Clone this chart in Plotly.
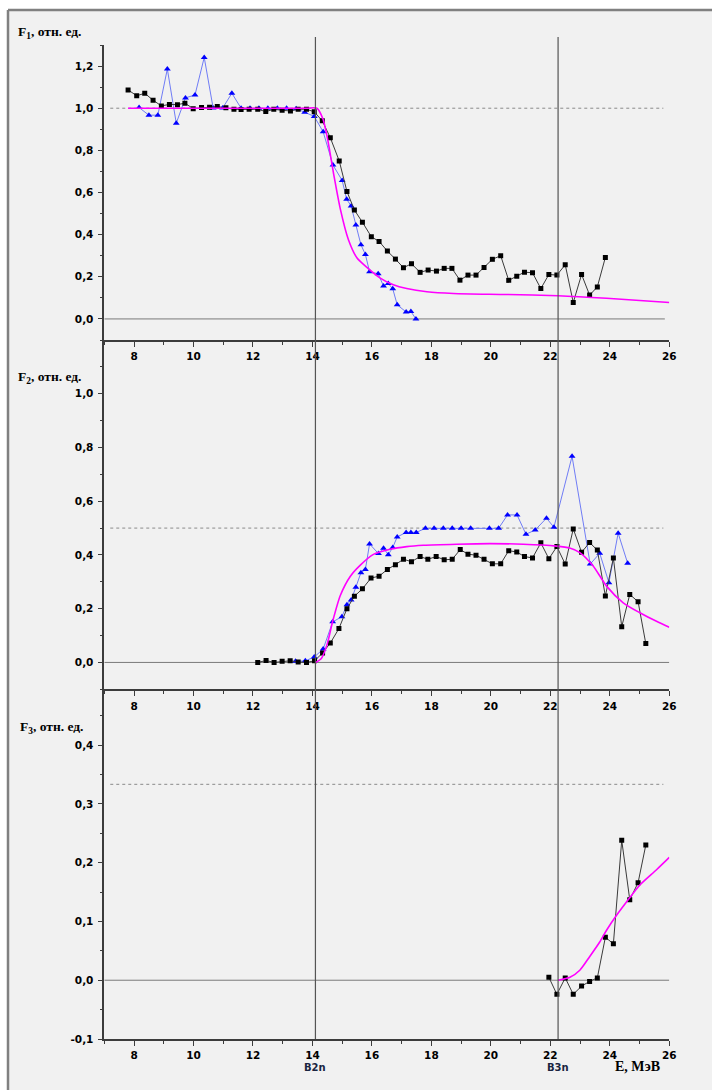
import plotly.graph_objects as go

# ---------------- data ----------------
# Panel F1
f1_sq_E = [7.8, 8.09, 8.36, 8.64, 8.92, 9.19, 9.46, 9.71, 9.99, 10.27, 10.54, 10.8, 11.09, 11.36, 11.6, 11.87,
           12.16, 12.43, 12.7, 12.98, 13.26, 13.52, 13.8, 14.06, 14.33, 14.6, 14.9, 15.16, 15.41, 15.68, 15.98,
           16.24, 16.52, 16.79, 17.06, 17.33, 17.62, 17.89, 18.17, 18.43, 18.69, 18.96, 19.23, 19.5, 19.77,
           20.05, 20.33, 20.6, 20.87, 21.13, 21.4, 21.68, 21.95, 22.22, 22.5, 22.77, 23.05, 23.32, 23.58, 23.85]
f1_sq_v = [1.087, 1.059, 1.071, 1.038, 1.011, 1.018, 1.017, 1.024, 0.998, 1.003, 1.005, 1.008, 1.002, 0.995,
           0.994, 0.995, 0.995, 0.984, 0.995, 0.99, 0.987, 0.995, 0.995, 0.983, 0.94, 0.86, 0.75, 0.605, 0.517,
           0.459, 0.39, 0.368, 0.322, 0.284, 0.243, 0.262, 0.221, 0.232, 0.227, 0.24, 0.24, 0.184, 0.208, 0.208,
           0.244, 0.283, 0.3, 0.183, 0.203, 0.222, 0.219, 0.144, 0.211, 0.208, 0.257, 0.078, 0.211, 0.113,
           0.152, 0.292]
f1_tr_E = [8.17, 8.5, 8.8, 9.12, 9.42, 9.73, 10.05, 10.36, 10.66, 10.98, 11.29, 11.6, 11.9, 12.2, 12.5, 12.82,
           13.13, 13.45, 13.74, 14.06, 14.36, 14.69, 15.0, 15.15, 15.3, 15.46, 15.63, 15.78, 15.92, 16.21,
           16.39, 16.55, 16.7, 16.85, 17.15, 17.31, 17.48]
f1_tr_v = [1.003, 0.967, 0.967, 1.186, 0.929, 1.049, 1.063, 1.241, 1.001, 1.001, 1.071, 1.0, 1.0, 1.0, 1.0,
           1.0, 1.0, 0.998, 0.981, 0.961, 0.888, 0.73, 0.657, 0.568, 0.536, 0.446, 0.352, 0.306, 0.224, 0.214,
           0.156, 0.168, 0.143, 0.067, 0.033, 0.035, 0.0]
f1_fit_E = [7.8, 9, 10, 11, 12, 13, 13.8, 14.15, 14.35, 14.5, 14.71, 14.94, 15.21, 15.5, 15.83, 16.28, 16.72,
            17.17, 17.85, 18.74, 20.53, 22.26, 23.89, 26.0]
f1_fit_v = [1.0, 1.0, 1.0, 1.0, 1.0, 1.0, 1.0, 1.0, 0.95, 0.86, 0.69, 0.52, 0.376, 0.289, 0.245, 0.194, 0.162,
            0.144, 0.129, 0.121, 0.116, 0.11, 0.098, 0.078]

# Panel F2
f2_sq_E = [12.16, 12.44, 12.71, 12.98, 13.25, 13.52, 13.8, 14.07, 14.34, 14.6, 14.89, 15.16, 15.41, 15.68,
           15.97, 16.24, 16.52, 16.79, 17.06, 17.33, 17.62, 17.88, 18.16, 18.43, 18.7, 18.97, 19.23, 19.5,
           19.77, 20.05, 20.33, 20.6, 20.87, 21.13, 21.4, 21.68, 21.95, 22.22, 22.5, 22.77, 23.05, 23.32,
           23.58, 23.85, 24.12, 24.4, 24.67, 24.95, 25.21]
f2_sq_v = [0.0, 0.007, 0.0, 0.004, 0.006, 0.002, 0.0, 0.006, 0.035, 0.072, 0.126, 0.2, 0.246, 0.274, 0.314,
           0.321, 0.346, 0.364, 0.384, 0.375, 0.394, 0.384, 0.394, 0.382, 0.384, 0.42, 0.403, 0.399, 0.384,
           0.367, 0.367, 0.416, 0.411, 0.394, 0.389, 0.445, 0.386, 0.431, 0.366, 0.497, 0.41, 0.446, 0.418,
           0.247, 0.389, 0.133, 0.253, 0.226, 0.07]
f2_tr_E = [13.43, 13.76, 14.06, 14.36, 14.68, 14.99, 15.16, 15.3, 15.46, 15.63, 15.78, 15.92, 16.22, 16.39,
           16.55, 16.7, 16.85, 17.15, 17.31, 17.49, 17.8, 18.09, 18.4, 18.7, 19.0, 19.32, 19.95, 20.26, 20.56,
           20.88, 21.18, 21.49, 21.87, 22.12, 22.73, 23.34, 23.66, 23.97, 24.28, 24.6]
f2_tr_v = [0.004, 0.006, 0.02, 0.05, 0.151, 0.17, 0.215, 0.232, 0.28, 0.334, 0.346, 0.441, 0.405, 0.425,
           0.401, 0.428, 0.467, 0.484, 0.484, 0.484, 0.499, 0.499, 0.499, 0.499, 0.499, 0.499, 0.499, 0.499,
           0.549, 0.549, 0.477, 0.493, 0.537, 0.503, 0.767, 0.366, 0.406, 0.297, 0.481, 0.369]
f2_fit_E = [14.1, 14.3, 14.5, 14.68, 14.94, 15.27, 15.61, 16.05, 16.61, 17.17, 17.73, 18.85, 19.97, 21.09,
            22.2, 22.65, 22.99, 23.44, 23.89, 24.45, 25.01, 25.57, 26.0]
f2_fit_v = [0.0, 0.015, 0.07, 0.153, 0.25, 0.32, 0.362, 0.402, 0.421, 0.431, 0.436, 0.44, 0.442, 0.44,
            0.433, 0.426, 0.409, 0.359, 0.284, 0.222, 0.185, 0.153, 0.131]

# Panel F3
f3_sq_E = [21.95, 22.22, 22.5, 22.77, 23.05, 23.32, 23.58, 23.85, 24.12, 24.4, 24.67, 24.95, 25.21]
f3_sq_v = [0.005, -0.024, 0.004, -0.024, -0.01, -0.002, 0.004, 0.073, 0.062, 0.238, 0.137, 0.166, 0.23]
f3_fit_E = [22.26, 22.66, 22.99, 23.32, 23.66, 23.89, 24.22, 24.56, 25.01, 25.57, 26.0]
f3_fit_v = [0.0, 0.005, 0.017, 0.04, 0.065, 0.085, 0.11, 0.133, 0.162, 0.188, 0.209]

# reference levels, thresholds, axis labels
dotted_levels = [1.0, 0.5, 1 / 3]
thresholds_E = [14.1, 22.26]
threshold_labels = ["B2n", "B3n"]
y_titles = ["F<sub>1</sub>, отн. ед.", "F<sub>2</sub>, отн. ед.", "F<sub>3</sub>, отн. ед."]
y_ranges = [[-0.1, 1.3], [-0.1, 1.2], [-0.1, 0.495]]
y_tickvals = [[0.0, 0.2, 0.4, 0.6, 0.8, 1.0, 1.2],
              [0.0, 0.2, 0.4, 0.6, 0.8, 1.0],
              [-0.1, 0.0, 0.1, 0.2, 0.3, 0.4]]
y_minor = [0.1, 0.1, 0.05]
x_tickvals = [8, 10, 12, 14, 16, 18, 20, 22, 24, 26]

# ---------------- figure ----------------
W, H = 712, 1090
def py(px):
    return 1 - px / H

x_dom = [104.3 / W, 669.3 / W]
y_doms = [[py(340), py(45)], [py(689.3), py(340)], [py(1039), py(689.3)]]

fig = go.Figure()

sq_line = dict(color="#3a3a3a", width=1)
sq_mark = dict(symbol="square", size=5, color="black")
tr_line = dict(color="#6f7cf5", width=1)
tr_mark = dict(symbol="triangle-up", size=6, color="#0000ff")
fit_line = dict(color="#ff00ff", width=1.6, shape="spline", smoothing=0.7)

panels = [
    (f1_fit_E, f1_fit_v, f1_tr_E, f1_tr_v, f1_sq_E, f1_sq_v),
    (f2_fit_E, f2_fit_v, f2_tr_E, f2_tr_v, f2_sq_E, f2_sq_v),
    (f3_fit_E, f3_fit_v, None, None, f3_sq_E, f3_sq_v),
]

for i, (fe, fv, te, tv, se, sv) in enumerate(panels):
    xa = "x" if i == 0 else f"x{i+1}"
    ya = "y" if i == 0 else f"y{i+1}"
    fig.add_trace(go.Scatter(x=[7.0, 25.85 if i == 0 else 26.0], y=[0, 0], mode="lines",
                             line=dict(color="#7a7a7a", width=1), xaxis=xa, yaxis=ya, hoverinfo="skip"))
    fig.add_trace(go.Scatter(x=[7.2, 25.8], y=[dotted_levels[i]] * 2, mode="lines",
                             line=dict(color="#8a8a8a", width=1, dash="dot"), xaxis=xa, yaxis=ya, hoverinfo="skip"))
    if te is not None:
        fig.add_trace(go.Scatter(x=te, y=tv, mode="lines+markers", line=tr_line, marker=tr_mark,
                                 xaxis=xa, yaxis=ya))
    fig.add_trace(go.Scatter(x=se, y=sv, mode="lines+markers", line=sq_line, marker=sq_mark,
                             xaxis=xa, yaxis=ya))
    fig.add_trace(go.Scatter(x=fe, y=fv, mode="lines", line=fit_line, xaxis=xa, yaxis=ya))

tick_font = dict(family="DejaVu Sans, Arial", size=10.5, color="black", weight="bold")
axis_col = "#3c3c3c"
layout = dict(width=W, height=H, margin=dict(l=0, r=0, t=0, b=0, autoexpand=False),
              paper_bgcolor="white", plot_bgcolor="rgba(0,0,0,0)", showlegend=False)

for i in range(3):
    xk = "xaxis" if i == 0 else f"xaxis{i+1}"
    yk = "yaxis" if i == 0 else f"yaxis{i+1}"
    ya = "y" if i == 0 else f"y{i+1}"
    xa = "x" if i == 0 else f"x{i+1}"
    layout[xk] = dict(domain=x_dom, anchor=ya, range=[7, 26], tickmode="array", tickvals=x_tickvals,
                      ticktext=[str(v) for v in x_tickvals], showgrid=False, automargin=False,
                      zeroline=False, showline=True, linecolor=axis_col, linewidth=1.5,
                      ticks="outside", ticklen=5, tickwidth=1.3, tickcolor=axis_col,
                      tickfont=tick_font, ticklabelstandoff=1,
                      minor=dict(ticks="outside", ticklen=3, tickwidth=1.2, tickcolor=axis_col,
                                 tick0=7, dtick=1, showgrid=False))
    tv = y_tickvals[i]
    layout[yk] = dict(domain=y_doms[i], anchor=xa, range=y_ranges[i], tickmode="array", tickvals=tv,
                      ticktext=[f"{v:.1f}".replace(".", ",") for v in tv], automargin=False,
                      showgrid=False, zeroline=False, showline=True,
                      linecolor=axis_col, linewidth=1.5, ticks="outside", ticklen=5, tickwidth=1.3,
                      tickcolor=axis_col, tickfont=tick_font, ticklabelstandoff=2,
                      minor=dict(ticks="outside", ticklen=3, tickwidth=1.2, tickcolor=axis_col,
                                 tick0=0, dtick=y_minor[i], showgrid=False))

fig.update_layout(**layout)

shapes = [
    dict(type="rect", xref="paper", yref="paper", x0=8 / W, x1=1.0, y0=0.0, y1=py(10),
         fillcolor="#f1f1f1", line=dict(width=0), layer="below"),
    dict(type="line", xref="paper", yref="paper", x0=8 / W, x1=8 / W, y0=0.0, y1=py(10),
         line=dict(color="#808080", width=2.5), layer="below"),
    dict(type="line", xref="paper", yref="paper", x0=8 / W, x1=1.0, y0=py(10), y1=py(10),
         line=dict(color="#808080", width=2.5), layer="below"),
]
for e in thresholds_E:
    shapes.append(dict(type="line", xref="x", yref="paper", x0=e, x1=e, y0=py(1039), y1=py(37),
                       line=dict(color="#555555", width=1.2), layer="above"))
fig.update_layout(shapes=shapes)

title_font = dict(family="Liberation Serif, Times New Roman", size=13.5, color="black", weight="bold")
title_pos = [(16, 33), (16, 377), (18, 727)]
ann = []
for t, (tx, ty) in zip(y_titles, title_pos):
    ann.append(dict(text=t, xref="paper", yref="paper", x=tx / W, y=py(ty), xanchor="left",
                    yanchor="middle", showarrow=False, font=title_font))
for e, lab in zip(thresholds_E, threshold_labels):
    ann.append(dict(text=lab, xref="x3", yref="paper", x=e, y=py(1067), xanchor="center",
                    yanchor="middle", showarrow=False,
                    font=dict(family="DejaVu Sans, Arial", size=10, color="#1a2440", weight="bold")))
ann.append(dict(text="E, МэВ", xref="paper", yref="paper", x=637 / W, y=py(1066), xanchor="center",
                yanchor="middle", showarrow=False, font=dict(family="Liberation Serif, Times New Roman",
                                                             size=14, color="black", weight="bold")))
fig.update_layout(annotations=ann)

fig.write_html("out.html", config={"displayModeBar": False},
               post_script="document.body.style.margin='0';document.body.style.overflow='hidden';")
